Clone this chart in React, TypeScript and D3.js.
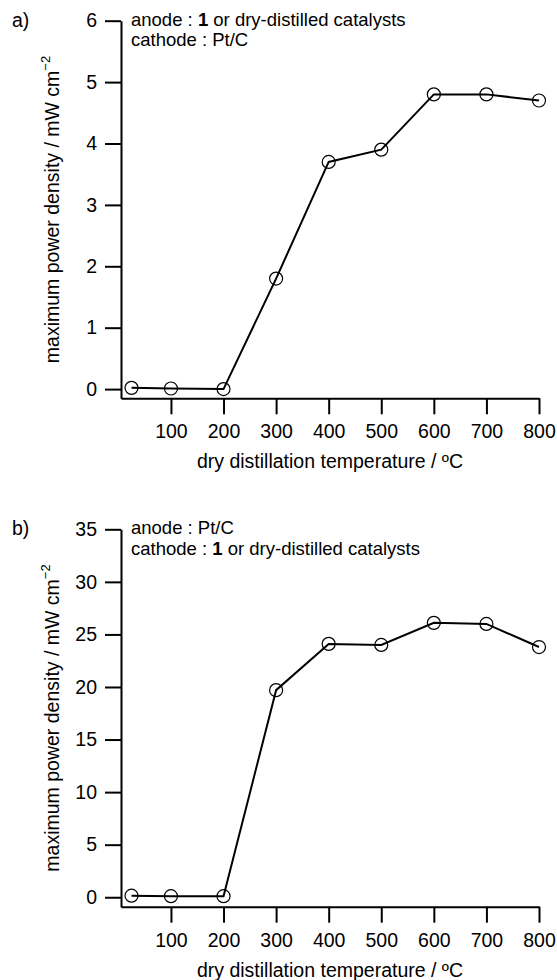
import { useEffect, useRef } from "react";
import * as d3 from "d3";

// dry distillation temperatures (first point = room temperature)
const temps = [25, 100, 200, 300, 400, 500, 600, 700, 800];
// maximum power density, panel a (anode = catalyst) and panel b (cathode = catalyst)
const powerA = [0.02, 0.01, 0.0, 1.8, 3.7, 3.9, 4.8, 4.8, 4.7];
const powerB = [0.15, 0.1, 0.1, 19.7, 24.1, 24.0, 26.1, 26.0, 23.8];

const xTicks = [100, 200, 300, 400, 500, 600, 700, 800];
const yTicksA = [0, 1, 2, 3, 4, 5, 6];
const yTicksB = [0, 5, 10, 15, 20, 25, 30, 35];

const FONT = "'Liberation Sans', Arial, Helvetica, sans-serif";
const FS = 19.5;

type Panel = {
  tag: string;
  values: number[];
  yDomain: [number, number];
  yTicks: number[];
  top: number;
  bottom: number;
  note1: (string | [string, boolean])[];
  note2: (string | [string, boolean])[];
};

const App = () => {
  const ref = useRef<SVGSVGElement>(null);

  useEffect(() => {
    const svg = d3.select(ref.current);
    svg.selectAll("*").remove();

    const left = 121;
    const right = 539;

    const panels: Panel[] = [
      {
        tag: "a)",
        values: powerA,
        yDomain: [-0.15, 6],
        yTicks: yTicksA,
        top: 20.7,
        bottom: 398.3,
        note1: ["anode : ", ["1", true], " or dry-distilled catalysts"],
        note2: ["cathode : Pt/C"],
      },
      {
        tag: "b)",
        values: powerB,
        yDomain: [-0.9, 35],
        yTicks: yTicksB,
        top: 529.3,
        bottom: 906.7,
        note1: ["anode : Pt/C"],
        note2: ["cathode : ", ["1", true], " or dry-distilled catalysts"],
      },
    ];

    panels.forEach((p) => {
      const x = d3.scaleLinear().domain([5, 800]).range([left, right]);
      const y = d3.scaleLinear().domain(p.yDomain).range([p.bottom, p.top]);

      const g = svg.append("g");

      // axes
      const xAxis = g.append("g")
        .attr("transform", `translate(0,${p.bottom})`)
        .call(d3.axisBottom(x).tickValues(xTicks).tickFormat(d3.format("d")).tickSize(16).tickSizeOuter(0).tickPadding(10));
      const yAxis = g.append("g")
        .attr("transform", `translate(${left},0)`)
        .call(d3.axisLeft(y).tickValues(p.yTicks).tickFormat(d3.format("d")).tickSize(16).tickSizeOuter(0).tickPadding(8));

      [xAxis, yAxis].forEach((a) => {
        a.select(".domain").attr("stroke", "#000").attr("stroke-width", 2);
        a.selectAll(".tick line").attr("stroke", "#000").attr("stroke-width", 2);
        a.selectAll(".tick text")
          .attr("fill", "#000")
          .style("font-family", FONT)
          .style("font-size", FS + "px");
      });

      // x axis title
      g.append("text")
        .attr("x", (left + right) / 2)
        .attr("y", p.bottom + 70)
        .attr("text-anchor", "middle")
        .style("font-family", FONT)
        .style("font-size", FS + "px")
        .text("dry distillation temperature / ºC");

      // y axis title with superscript
      const yt = g.append("text")
        .attr("transform", `translate(59,${(p.top + p.bottom) / 2}) rotate(-90)`)
        .attr("text-anchor", "middle")
        .style("font-family", FONT)
        .style("font-size", FS + "px");
      yt.append("tspan").text("maximum power density / mW cm");
      yt.append("tspan")
        .attr("dy", -9)
        .style("font-size", "13px")
        .text("−2");

      // panel tag
      g.append("text")
        .attr("x", 12)
        .attr("y", p.top + 6)
        .style("font-family", FONT)
        .style("font-size", FS + "px")
        .text(p.tag);

      // annotation lines
      [p.note1, p.note2].forEach((parts, i) => {
        const t = g.append("text")
          .attr("x", 131)
          .attr("y", p.top + 5 + i * 20.5)
          .style("font-family", FONT)
          .style("font-size", "18.5px");
        parts.forEach((part) => {
          if (typeof part === "string") t.append("tspan").text(part);
          else t.append("tspan").attr("font-weight", "bold").text(part[0]);
        });
      });

      // line + hollow markers
      const line = d3.line<number>()
        .x((_, i) => x(temps[i]))
        .y((d) => y(d));

      g.append("path")
        .datum(p.values)
        .attr("fill", "none")
        .attr("stroke", "#000")
        .attr("stroke-width", 2)
        .attr("d", line);

      g.selectAll(".pt")
        .data(p.values)
        .enter()
        .append("circle")
        .attr("cx", (_, i) => x(temps[i]))
        .attr("cy", (d) => y(d))
        .attr("r", 6.5)
        .attr("fill", "none")
        .attr("stroke", "#000")
        .attr("stroke-width", 1.2);
    });
  }, []);

  return (
    <svg
      ref={ref}
      width={557}
      height={980}
      style={{ position: "absolute", left: 0, top: 0, display: "block", background: "#fff" }}
    />
  );
};

export default App;
